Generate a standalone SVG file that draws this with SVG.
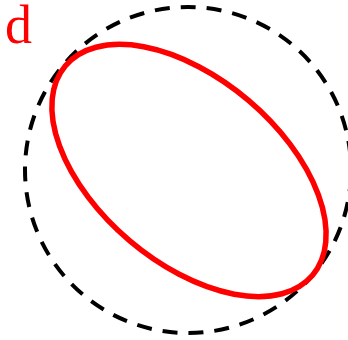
<svg xmlns="http://www.w3.org/2000/svg" width="348" height="340" viewBox="0 0 348 340">
<style>
.dash{fill:none;stroke:#000;stroke-width:4;stroke-dasharray:15 11;stroke-dashoffset:-6.5}
.ell{fill:none;stroke:#ff0000;stroke-width:5.5}
.lbl{font-family:"Liberation Serif","Times New Roman",serif;font-size:54px;fill:#ff0000}
</style>
<g id="circle"><circle class="dash" cx="188" cy="170" r="163"/></g>
<g id="ellipse"><ellipse class="ell" cx="189" cy="170.5" rx="162" ry="92" transform="rotate(40.3 189 170.5)"/></g>
<g id="label"><text class="lbl" x="5" y="43">d</text></g>
</svg>
